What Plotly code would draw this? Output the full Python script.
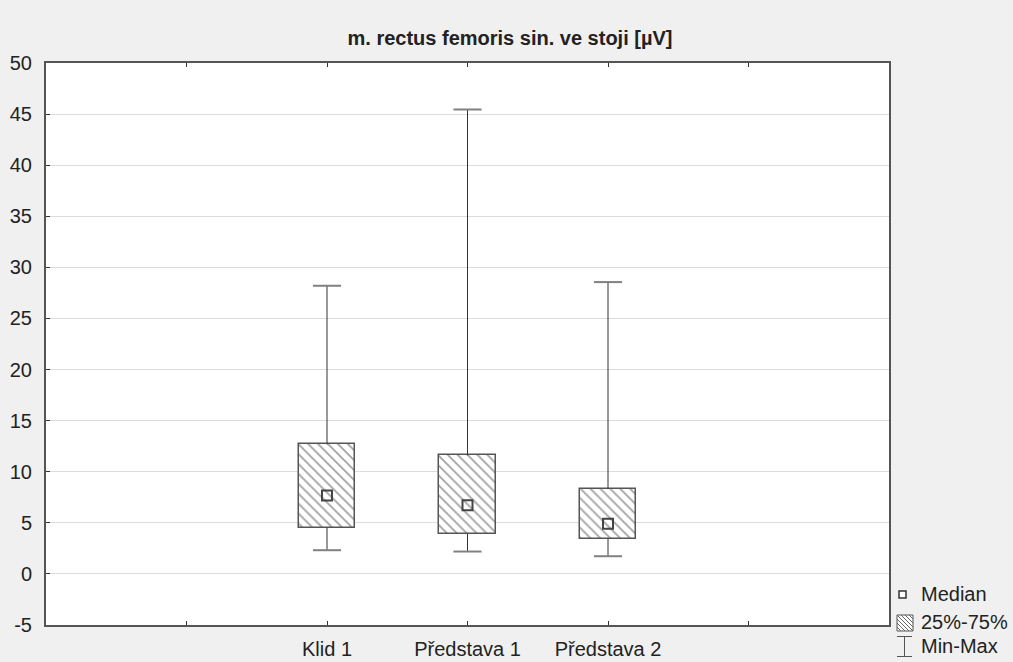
import plotly.graph_objects as go

categories = ["Klid 1", "Představa 1", "Představa 2"]
positions = [2, 3, 4]
medians = [7.67, 6.73, 4.9]
q1 = [4.54, 3.92, 3.46]
q3 = [12.68, 11.6, 8.3]
mins = [2.32, 2.19, 1.73]
maxs = [28.2, 45.45, 28.56]
y_ticks = list(range(-5, 51, 5))
y_ticktext = [str(v) for v in y_ticks]
title = "m. rectus femoris sin. ve stoji [µV]"
legend_labels = ["Median", "25%-75%", "Min-Max"]

FONT = "Liberation Sans, Arial, sans-serif"
FS = 20
W, H = 1013, 662
L, R, T, B = 46, 124, 63, 37
PW, PH = W - L - R, H - T - B


def px(xp):
    return (xp - L) / PW


def py(yp):
    return (H - B - yp) / PH


fig = go.Figure()

# whisker vertical lines
wx, wy = [], []
for p, lo, a, b, hi in zip(positions, mins, q1, q3, maxs):
    wx += [p, p, None, p, p, None]
    wy += [lo, a, None, b, hi, None]
fig.add_trace(go.Scatter(x=wx, y=wy, mode="lines", line=dict(color="#333333", width=1),
                         showlegend=False, hoverinfo="skip"))
# caps
cap = 0.1
cx, cy = [], []
for p, lo, hi in zip(positions, mins, maxs):
    cx += [p - cap, p + cap, None, p - cap, p + cap, None]
    cy += [lo, lo, None, hi, hi, None]
fig.add_trace(go.Scatter(x=cx, y=cy, mode="lines", line=dict(color="#808080", width=2),
                         showlegend=False, hoverinfo="skip"))

# boxes
fig.add_trace(go.Bar(
    x=positions, y=[b - a for a, b in zip(q1, q3)], base=q1, width=0.405,
    marker=dict(color="white", line=dict(color="#555555", width=1.5),
                pattern=dict(shape="\\", size=7, solidity=0.25, fgcolor="#444444", bgcolor="white",
                             fillmode="overlay")),
    name="25%-75%", showlegend=False, hoverinfo="skip"))

# medians
fig.add_trace(go.Scatter(x=positions, y=medians, mode="markers",
                         marker=dict(symbol="square-open", size=10, color="#444444", line=dict(width=2)),
                         name="Median", showlegend=False))

# ---- manual legend (paper coordinates) ----
shapes = []
annotations = []
# Median symbol
shapes.append(dict(type="rect", xref="paper", yref="paper",
                   x0=px(899), x1=px(906), y0=py(598), y1=py(591),
                   line=dict(color="#333333", width=1.5), fillcolor="white"))
# hatched square
x0, x1, y0, y1 = 897, 913, 615, 631
shapes.append(dict(type="rect", xref="paper", yref="paper",
                   x0=px(x0), x1=px(x1), y0=py(y1), y1=py(y0),
                   line=dict(color="#555555", width=1), fillcolor="white"))
segs = []
s = 16
for k in range(-s + 4, s, 4):
    ax, ay = x0 + k, y0
    bx, by = x0 + k + s, y0 + s
    if ax < x0:
        ay += x0 - ax
        ax = x0
    if bx > x1:
        by -= bx - x1
        bx = x1
    segs.append(f"M{px(ax)},{py(ay)} L{px(bx)},{py(by)}")
shapes.append(dict(type="path", xref="paper", yref="paper", path=" ".join(segs),
                   line=dict(color="#666666", width=1)))
# Min-Max symbol
shapes.append(dict(type="line", xref="paper", yref="paper", x0=px(904.5), x1=px(904.5),
                   y0=py(636.5), y1=py(656.5), line=dict(color="#555555", width=1)))
for yy in (636.5, 656.5):
    shapes.append(dict(type="line", xref="paper", yref="paper", x0=px(897), x1=px(912),
                       y0=py(yy), y1=py(yy), line=dict(color="#555555", width=1)))
for lab, yc in zip(legend_labels, [594, 622, 646]):
    annotations.append(dict(text=lab, xref="paper", yref="paper", x=px(919), y=py(yc),
                            xanchor="left", yanchor="middle", showarrow=False,
                            font=dict(size=FS, family=FONT, color="#222222")))

fig.update_layout(
    width=W, height=H,
    margin=dict(l=L, r=R, t=T, b=B, autoexpand=False),
    paper_bgcolor="#f0f0f0", plot_bgcolor="white",
    font=dict(family=FONT, size=FS, color="#222222"),
    title=dict(text="<b>" + title + "</b>", x=510 / W, xref="container", xanchor="center",
               y=1 - 38 / H, yanchor="middle", font=dict(size=FS, family=FONT, color="#222222")),
    bargap=0,
    showlegend=False,
    shapes=shapes,
    annotations=annotations,
)
fig.update_xaxes(range=[0, 6], tickmode="array", tickvals=[1, 2, 3, 4, 5],
                 ticktext=["", categories[0], categories[1], categories[2], ""],
                 ticks="inside", ticklen=4, tickcolor="#333333", showgrid=False, zeroline=False,
                 showline=True, linecolor="#555555", linewidth=2, mirror="ticks",
                 ticklabelstandoff=5, tickfont=dict(size=FS), automargin=False)
fig.update_yaxes(range=[-5, 50], tickmode="array", tickvals=y_ticks, ticktext=y_ticktext,
                 ticks="inside", ticklen=4, tickcolor="#333333", showgrid=True, gridcolor="#dcdcdc",
                 gridwidth=1, zeroline=False, showline=True, linecolor="#555555", linewidth=2,
                 mirror=True, ticklabelstandoff=8, tickfont=dict(size=FS), automargin=False)

fig.write_html("out.html")
